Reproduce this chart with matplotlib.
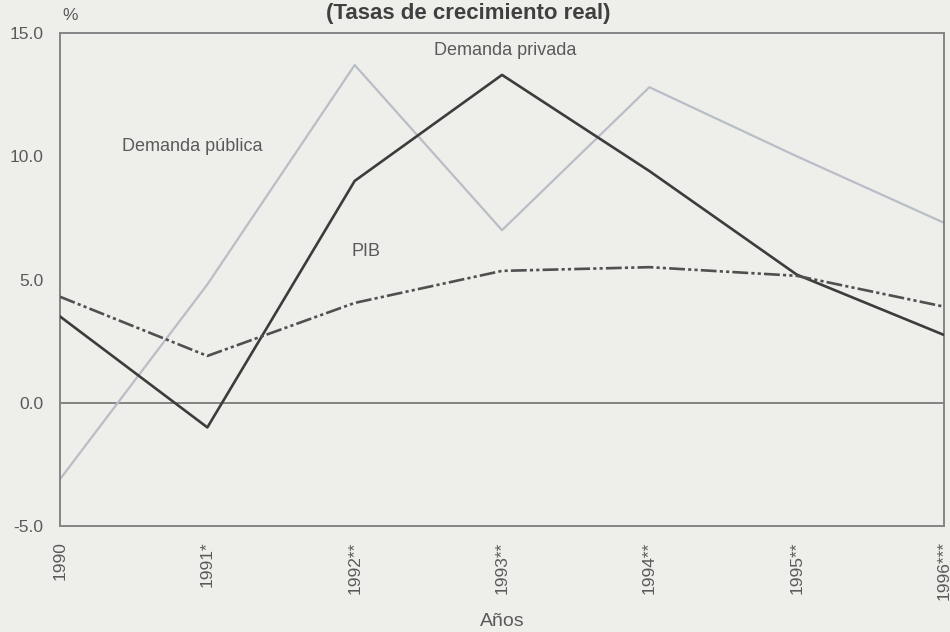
import matplotlib.pyplot as plt

plt.rcParams["font.family"] = ["Liberation Sans", "DejaVu Sans"]

# data
years = ["1990", "1991*", "1992**", "1993**", "1994**", "1995**", "1996***"]
demanda_publica = [-3.1, 4.8, 13.7, 7.0, 12.8, 10.0, 7.3]
demanda_privada = [3.5, -1.0, 9.0, 13.3, 9.4, 5.2, 2.75]
pib = [4.3, 1.9, 4.05, 5.35, 5.5, 5.15, 3.9]
y_ticks = [-5.0, 0.0, 5.0, 10.0, 15.0]

BG = "#eeeeeb"
TXT = "#5a5a5a"

fig = plt.figure(figsize=(9.5, 6.32), dpi=100)
fig.set_facecolor(BG)
ax = fig.add_axes([0.0632, 0.1677, 0.9305, 0.7801])
ax.set_facecolor(BG)

x = list(range(len(years)))
ax.axhline(0, color="#7a7a7a", lw=1.3, zorder=1)
ax.plot(x, demanda_publica, color="#b9bec6", lw=1.6, zorder=2)
ax.plot(x, demanda_privada, color="#3c3c3c", lw=1.9, zorder=3)
ax.plot(x, pib, color="#505050", lw=1.9, zorder=3,
        linestyle=(0, (6, 1.2, 1.2, 1.2, 1.2, 1.2)))

ax.set_xlim(0, len(years) - 1)
ax.set_ylim(-5, 15)
ax.set_yticks(y_ticks)
ax.set_yticklabels([f"{v:.1f}" for v in y_ticks])
ax.set_xticks(x)
ax.set_xticklabels(years, rotation=90)
ax.tick_params(length=0, colors=TXT, labelsize=12.5)
ax.tick_params(axis="y", pad=12)
ax.tick_params(axis="x", pad=11)
for spine in ax.spines.values():
    spine.set_edgecolor("#858585")
    spine.set_linewidth(1.4)

ax.set_xlabel("Años", color=TXT, fontsize=14, labelpad=9)

ax.text(3.02, 14.3, "Demanda privada", color=TXT, fontsize=13,
        ha="center", va="center")
ax.text(0.42, 10.4, "Demanda pública", color=TXT, fontsize=13,
        ha="left", va="center")
ax.text(1.98, 6.15, "PIB", color=TXT, fontsize=13, ha="left", va="center")

fig.text(0.074, 0.975, "%", color=TXT, fontsize=12.5, ha="center", va="center")
fig.text(0.493, 0.978, "(Tasas de crecimiento real)", color="#404040",
         fontsize=16, fontweight="bold", ha="center", va="center")

fig.savefig("out.png", dpi=100, facecolor=BG)
